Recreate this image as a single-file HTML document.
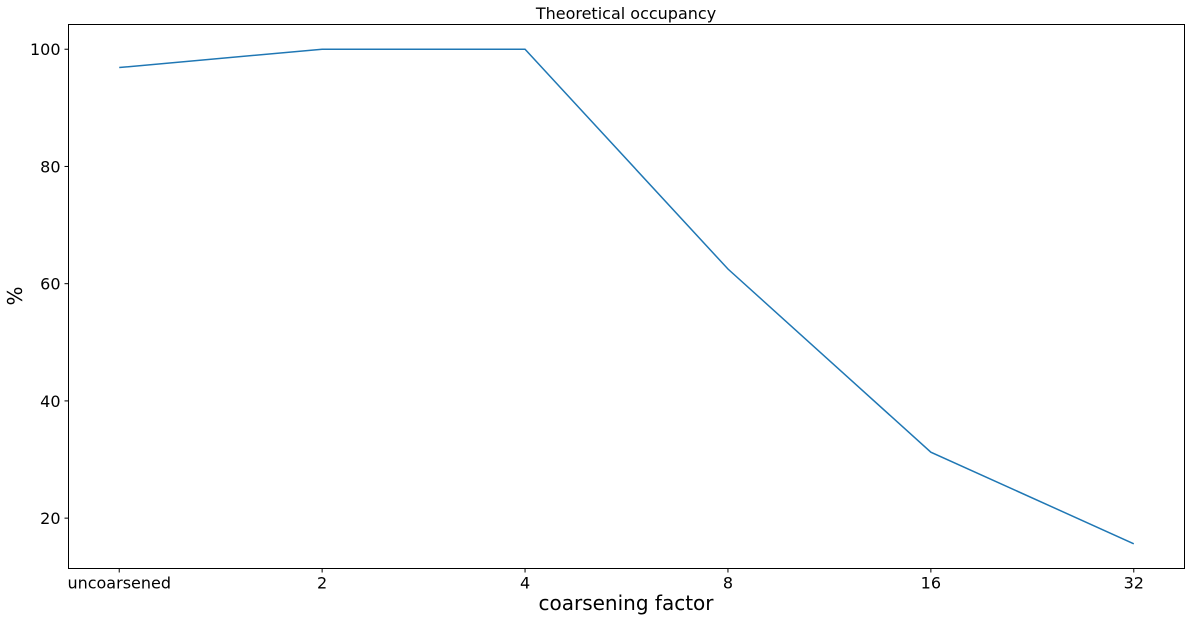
<!DOCTYPE html>
<html><head><meta charset="utf-8"><style>
html,body{margin:0;padding:0;background:#fff;}
svg text{font-family:"DejaVu Sans","Liberation Sans",sans-serif;fill:#000;}
</style></head><body>
<svg id="chart" width="1190" height="620" xmlns="http://www.w3.org/2000/svg">
<rect x="0" y="0" width="1190" height="620" fill="#fff"/>
<text x="626" y="19" font-size="16" text-anchor="middle">Theoretical occupancy</text>
<text x="626" y="610" font-size="20" text-anchor="middle">coarsening factor</text>
<text transform="translate(22,296) rotate(-90)" font-size="20" text-anchor="middle">%</text>
<g id="ticks"></g>
<g id="series"></g>
<rect x="68.5" y="24.5" width="1116" height="544" fill="none" stroke="#000" stroke-width="1"/>
</svg>
<script>
const categories = ["uncoarsened","2","4","8","16","32"];
const occupancy = [96.875,100,100,62.5,31.25,15.625];
const yTicks = [20,40,60,80,100];

const L=68.5,R=1184.5,T=24.5,B=568.5;
const xMin=-0.25,xMax=categories.length-1+0.25;
const yMin=11.40625,yMax=104.21875;
const xs=i=>L+(i-xMin)/(xMax-xMin)*(R-L);
const ys=v=>B-(v-yMin)/(yMax-yMin)*(B-T);
const NS="http://www.w3.org/2000/svg";
const tg=document.getElementById('ticks');
function mk(tag,attrs,parent){const e=document.createElementNS(NS,tag);for(const k in attrs)e.setAttribute(k,attrs[k]);parent.appendChild(e);return e;}
categories.forEach((c,i)=>{
  const x=xs(i);
  const t=mk('line',{x1:x,x2:x,y1:B,y2:B+4,stroke:'#000'},tg);
  
  
  const l=mk('text',{x:x,y:B+20,'font-size':16,'text-anchor':'middle'},tg);
  l.textContent=c;
  
  
});
yTicks.forEach(v=>{
  const y=ys(v);
  const t=mk('line',{x1:L-4,x2:L,y1:y,y2:y,stroke:'#000'},tg);
  
  
  const l=mk('text',{x:L-8,y:y+6,'font-size':16,'text-anchor':'end'},tg);
  l.textContent=v;
  
  
});
const pts=occupancy.map((v,i)=>xs(i)+','+ys(v)).join(' ');
const pl=mk('polyline',{points:pts,fill:'none',stroke:'#1f77b4','stroke-width':1.5},document.getElementById('series'));


</script>
</body></html>
